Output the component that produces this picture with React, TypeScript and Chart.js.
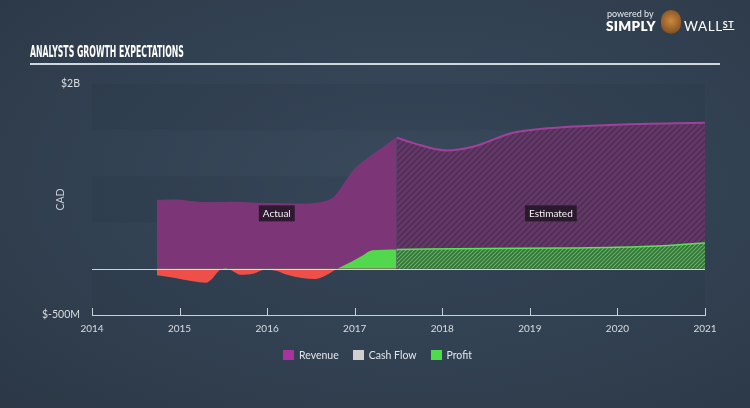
import React, { useEffect, useRef } from "react";
import { Chart, registerables } from "chart.js";

Chart.register(...registerables);

// ---- data (years as decimal, values in $B CAD) ----
const xTicks = [2014, 2015, 2016, 2017, 2018, 2019, 2020, 2021];
const yTickValues = [-0.5, 2];
const yTickLabels = ["$-500M", "$2B"];

const revenueActualYears = [2014.74, 2014.95, 2015.2, 2015.4, 2015.63, 2015.86, 2016.09, 2016.38, 2016.6, 2016.77, 2016.9, 2017.0, 2017.17, 2017.32, 2017.48];
const revenueActualValues = [0.74, 0.745, 0.72, 0.715, 0.72, 0.71, 0.705, 0.7, 0.715, 0.78, 0.95, 1.08, 1.21, 1.31, 1.42];

const revenueEstYears = [2017.48, 2017.67, 2018.05, 2018.35, 2018.8, 2019.2, 2020.0, 2021.0];
const revenueEstValues = [1.42, 1.36, 1.28, 1.32, 1.47, 1.52, 1.56, 1.58];

const profitActualYears = [2014.74, 2014.95, 2015.15, 2015.3, 2015.37, 2015.44, 2015.52, 2015.6, 2015.7, 2015.85, 2015.97, 2016.1, 2016.23, 2016.4, 2016.55, 2016.7, 2016.8, 2016.95, 2017.1, 2017.2, 2017.48];
const profitActualValues = [-0.07, -0.1, -0.135, -0.15, -0.11, -0.03, 0.01, -0.02, -0.065, -0.05, -0.01, -0.02, -0.065, -0.1, -0.11, -0.055, 0.0, 0.07, 0.15, 0.2, 0.21];

const profitEstYears = [2017.48, 2018.5, 2019.5, 2020.3, 2020.7, 2021.0];
const profitEstValues = [0.21, 0.22, 0.225, 0.24, 0.26, 0.28];

const legendItems = ["Revenue", "Cash Flow", "Profit"];
const legendColors = ["#a8329e", "#cfcfcf", "#4fdc4b"];

const toXY = (xs: number[], ys: number[]) => xs.map((x, i) => ({ x, y: ys[i] }));

function makeHatch(base: string, stripe: string, size = 6, lw = 1.2) {
  const c = document.createElement("canvas");
  c.width = size;
  c.height = size;
  const ctx = c.getContext("2d")!;
  ctx.fillStyle = base;
  ctx.fillRect(0, 0, size, size);
  ctx.strokeStyle = stripe;
  ctx.lineWidth = lw;
  ctx.beginPath();
  ctx.moveTo(-1, size + 1);
  ctx.lineTo(size + 1, -1);
  ctx.moveTo(-1, 1);
  ctx.lineTo(1, -1);
  ctx.moveTo(size - 1, size + 1);
  ctx.lineTo(size + 1, size - 1);
  ctx.stroke();
  return ctx.createPattern(c, "repeat")!;
}

const FONT = "Lato, 'Open Sans', sans-serif";

export default function App() {
  const ref = useRef<HTMLCanvasElement>(null);

  useEffect(() => {
    const canvas = ref.current!;
    const revHatch = makeHatch("#623866", "#4e2c55", 6, 1.3);
    const profHatch = makeHatch("#3a6e42", "#55c050", 4, 1.1);

    const bandsPlugin = {
      id: "bands",
      beforeDatasetsDraw(chart: any) {
        const { ctx, chartArea } = chart;
        const y = chart.scales.y;
        ctx.save();
        ctx.fillStyle = "rgba(20,30,40,0.09)";
        const bands = [
          [1.5, 2],
          [0.5, 1],
          [-0.5, 0],
        ];
        bands.forEach(([a, b]) => {
          const t = y.getPixelForValue(b);
          const bt = y.getPixelForValue(a);
          ctx.fillRect(chartArea.left, t, chartArea.right - chartArea.left, bt - t);
        });
        ctx.restore();
      },
      afterDatasetsDraw(chart: any) {
        const { ctx, chartArea } = chart;
        const x = chart.scales.x;
        const y = chart.scales.y;
        ctx.save();
        const zy = Math.round(y.getPixelForValue(0)) + 0.5;
        ctx.strokeStyle = "rgba(225,228,232,0.9)";
        ctx.lineWidth = 1.2;
        ctx.beginPath();
        ctx.moveTo(chartArea.left, zy);
        ctx.lineTo(chartArea.right, zy);
        ctx.stroke();
        const labels = [
          { text: "Actual", xv: (revenueActualYears[0] + revenueActualYears[revenueActualYears.length - 1]) / 2, yv: 0.6 },
          { text: "Estimated", xv: (revenueEstYears[0] + revenueEstYears[revenueEstYears.length - 1]) / 2, yv: 0.6 },
        ];
        ctx.font = `10px ${FONT}`;
        ctx.textAlign = "center";
        ctx.textBaseline = "middle";
        labels.forEach((l) => {
          const px = x.getPixelForValue(l.xv);
          const py = y.getPixelForValue(l.yv);
          const w = ctx.measureText(l.text).width + 8;
          ctx.fillStyle = "rgba(38,22,40,0.9)";
          ctx.fillRect(px - w / 2, py - 8, w, 16);
          ctx.fillStyle = "#f2f2f2";
          ctx.fillText(l.text, px, py + 0.5);
        });
        ctx.restore();
      },
      afterDraw(chart: any) {
        const { ctx, chartArea } = chart;
        const x = chart.scales.x;
        ctx.save();
        ctx.strokeStyle = "#c8d0d8";
        ctx.lineWidth = 1;
        x.ticks.forEach((t: any) => {
          const px = Math.round(x.getPixelForValue(t.value)) + 0.5;
          ctx.beginPath();
          ctx.moveTo(px, chartArea.bottom - 7);
          ctx.lineTo(px, chartArea.bottom);
          ctx.stroke();
        });
        ctx.restore();
      },
    };

    const chart = new Chart(canvas, {
      type: "line",
      data: {
        datasets: [
          {
            label: "Profit",
            data: toXY(profitActualYears, profitActualValues),
            borderWidth: 0,
            borderColor: "rgba(0,0,0,0)",
            fill: { target: "origin", above: "#52d84c", below: "#ee5049" },
            pointRadius: 0,
            tension: 0.4,
            cubicInterpolationMode: "monotone",
          },
          {
            label: "Profit Est",
            data: toXY(profitEstYears, profitEstValues),
            borderWidth: 1.5,
            borderColor: "#5ee357",
            backgroundColor: profHatch,
            fill: "origin",
            pointRadius: 0,
            cubicInterpolationMode: "monotone",
          },
          {
            label: "Revenue",
            data: toXY(revenueActualYears, revenueActualValues),
            borderWidth: 1,
            borderColor: "#7e3779",
            backgroundColor: "#7c3677",
            fill: "origin",
            pointRadius: 0,
            cubicInterpolationMode: "monotone",
          },
          {
            label: "Revenue Est",
            data: toXY(revenueEstYears, revenueEstValues),
            borderWidth: 2,
            borderColor: "#a1419b",
            backgroundColor: revHatch,
            fill: "origin",
            pointRadius: 0,
            cubicInterpolationMode: "monotone",
          },
        ],
      },
      options: {
        animation: false,
        responsive: false,
        layout: { padding: { left: 8, right: 45, top: 84, bottom: 0 } },
        plugins: { legend: { display: false }, tooltip: { enabled: false } },
        scales: {
          x: {
            type: "linear",
            min: 2014,
            max: 2021,
            afterFit(scale: any) {
              scale.height = 93;
            },
            afterBuildTicks(scale: any) {
              scale.ticks = xTicks.map((v) => ({ value: v }));
            },
            grid: { display: false, drawTicks: false },
            border: { display: true, color: "#c8d0d8", width: 1 },
            ticks: {
              color: "#d8dde2",
              font: { family: FONT, size: 10 },
              padding: 8,
              maxRotation: 0,
              callback: (v: any) => String(v),
            },
          },
          y: {
            type: "linear",
            min: -0.5,
            max: 2,
            afterFit(scale: any) {
              scale.width = 84;
            },
            afterBuildTicks(scale: any) {
              scale.ticks = yTickValues.map((v) => ({ value: v }));
            },
            grid: { display: false, drawTicks: false },
            border: { display: false },
            ticks: {
              color: "#d8dde2",
              font: { family: FONT, size: 10.5 },
              padding: 12,
              callback: (v: any) => yTickLabels[yTickValues.indexOf(v)] ?? "",
            },
            title: {
              display: true,
              text: "CAD",
              color: "#c8ced4",
              font: { family: FONT, size: 10.5 },
              padding: { top: 46, bottom: 0 },
            },
          },
        },
      },
      plugins: [bandsPlugin],
    } as any);
    return () => chart.destroy();
  }, []);

  return (
    <div
      style={{
        position: "fixed",
        left: 0,
        top: 0,
        width: 750,
        height: 408,
        overflow: "hidden",
        background: "radial-gradient(ellipse at 55% 45%, #394a5c 0%, #324152 55%, #2b3745 100%)",
        fontFamily: FONT,
      }}
    >
      <div
        style={{
          position: "absolute",
          left: 30,
          top: 42,
          color: "#ffffff",
          fontFamily: "'DejaVu Sans Condensed', 'Liberation Sans Narrow', sans-serif",
          fontWeight: 700,
          fontSize: 16,
          whiteSpace: "nowrap",
          transform: "scaleX(0.54)",
          transformOrigin: "left top",
          letterSpacing: 0,
        }}
      >
        ANALYSTS GROWTH EXPECTATIONS
      </div>
      <div style={{ position: "absolute", left: 30, top: 63, width: 690, height: 2, background: "#cfd6dd" }} />
      <div style={{ position: "absolute", left: 607, top: 8, color: "#e6e9ec", fontSize: 9 }}>powered by</div>
      <div style={{ position: "absolute", left: 606, top: 18, color: "#ffffff", fontSize: 13.5, fontWeight: 800, letterSpacing: 0.3 }}>
        SIMPLY
      </div>
      <div
        style={{
          position: "absolute",
          left: 661,
          top: 10,
          width: 20,
          height: 24,
          borderRadius: 10,
          background: "radial-gradient(circle at 50% 45%, #c98a3d 0%, #8a5526 70%, #4a2f1a 100%)",
        }}
      />
      <div style={{ position: "absolute", left: 684, top: 18, color: "#ffffff", fontSize: 13.5, fontWeight: 400, letterSpacing: 0.6 }}>
        WALL<span style={{ fontSize: 9, fontWeight: 700, textDecoration: "underline", verticalAlign: 3 }}>ST</span>
      </div>
      <canvas ref={ref} width={750} height={408} style={{ position: "absolute", left: 0, top: 0, width: 750, height: 408 }} />
      <div
        style={{
          position: "absolute",
          left: 283,
          top: 349,
          display: "flex",
          alignItems: "center",
          color: "#e3e6ea",
          fontSize: 10.5,
        }}
      >
        {legendItems.map((l, i) => (
          <div key={l} style={{ display: "flex", alignItems: "center", marginRight: 14 }}>
            <span style={{ display: "inline-block", width: 11, height: 10, background: legendColors[i], marginRight: 5 }} />
            <span>{l}</span>
          </div>
        ))}
      </div>
    </div>
  );
}
